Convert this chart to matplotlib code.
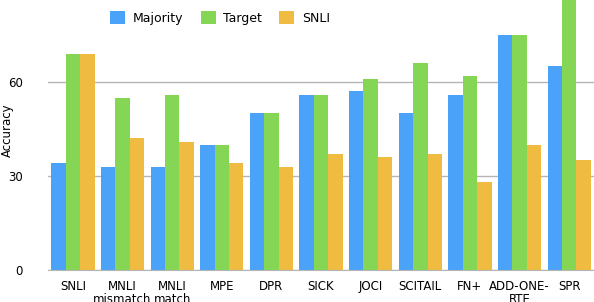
import matplotlib.pyplot as plt
import numpy as np

# data
datasets = ["SNLI", "MNLI\nmismatch", "MNLI\nmatch", "MPE", "DPR", "SICK",
            "JOCI", "SCITAIL", "FN+", "ADD-ONE-\nRTE", "SPR"]
majority = [34, 33, 33, 40, 50, 56, 57, 50, 56, 75, 65]
target = [69, 55, 56, 40, 50, 56, 61, 66, 62, 75, 90]
snli = [69, 42, 41, 34, 33, 37, 36, 37, 28, 40, 35]

colors = ["#4AA3F8", "#84D654", "#EFBB40"]

fig = plt.figure(figsize=(5.94, 3.02), dpi=100)
ax = fig.add_axes([0.081, 0.106, 0.919, 0.894])

x = np.arange(len(datasets))
w = 0.29
ax.bar(x - w, majority, w, color=colors[0], label="Majority")
ax.bar(x, target, w, color=colors[1], label="Target")
ax.bar(x + w, snli, w, color=colors[2], label="SNLI")

ax.set_xlim(-0.5, len(datasets) - 0.5)
ax.set_ylim(0, 86.2)
ax.set_yticks([0, 30, 60])
ax.yaxis.grid(True, color="#b5b5b5", linewidth=1)
ax.set_axisbelow(True)
for s in ["top", "right", "left"]:
    ax.spines[s].set_visible(False)
ax.spines["bottom"].set_color("#b5b5b5")
ax.tick_params(length=0, labelsize=8.5)
ax.tick_params(axis="y", pad=18)
ax.tick_params(axis="x", pad=7)
ax.set_xticks(x)
ax.set_xticklabels(datasets, linespacing=1.0)
ax.set_ylabel("Accuracy", fontsize=8.5)
ax.yaxis.set_label_coords(14 / 594, 1 - 130 / 302, transform=fig.transFigure)

ax.legend(loc="center", bbox_to_anchor=(220 / 594, 1 - 18 / 302),
          bbox_transform=fig.transFigure, ncol=3, frameon=False,
          fontsize=9, handlelength=1.2, handleheight=1.2, columnspacing=1.4,
          handletextpad=0.6)

fig.savefig("out.png")
